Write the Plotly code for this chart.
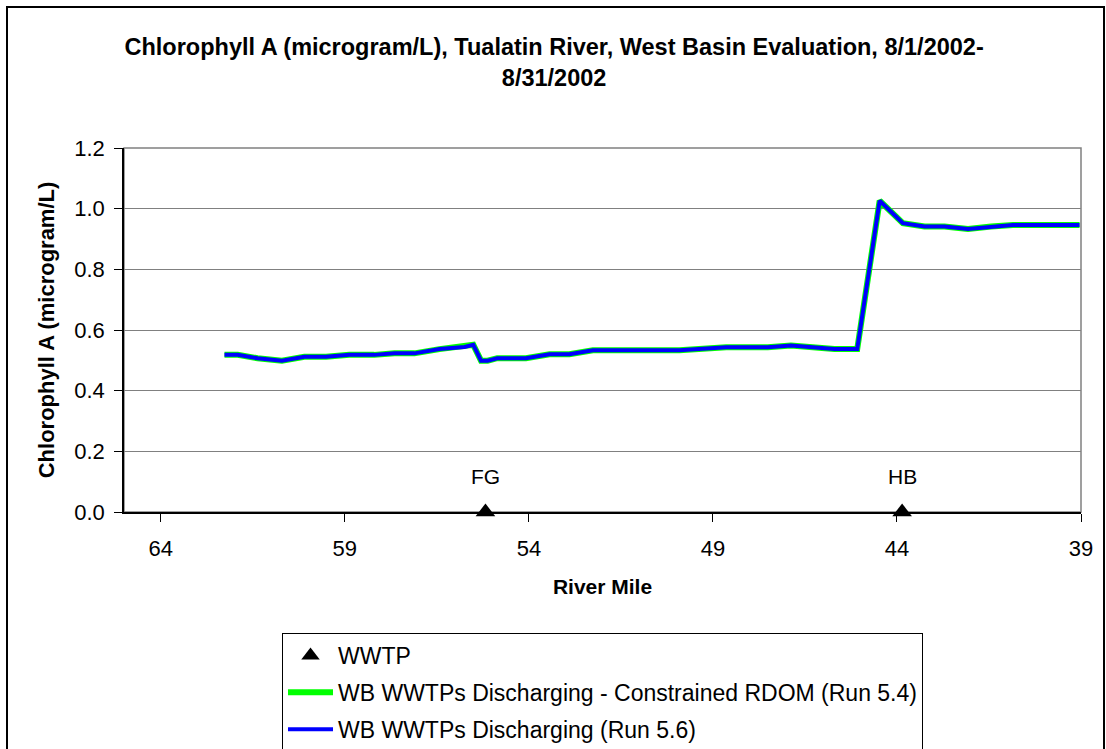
import plotly.graph_objects as go

# ---- data ----
river_mile = [62.27, 61.91, 61.37, 60.71, 60.10, 59.51, 58.88, 58.20, 57.65, 57.11,
              56.43, 55.75, 55.51, 55.30, 55.12, 54.86, 54.08, 53.44, 52.90, 52.26,
              49.91, 48.64, 47.51, 46.88, 45.70, 45.08, 44.47, 43.84, 43.25, 42.71,
              42.07, 41.44, 40.85, 40.26, 39.04]
chla_run54 = [0.518, 0.518, 0.507, 0.499, 0.512, 0.512, 0.518, 0.518, 0.523, 0.523,
              0.537, 0.544, 0.551, 0.499, 0.499, 0.507, 0.507, 0.520, 0.520, 0.533,
              0.533, 0.543, 0.543, 0.549, 0.537, 0.537, 1.026, 0.952, 0.941, 0.941,
              0.933, 0.941, 0.946, 0.946, 0.946]
chla_run56 = [0.518, 0.518, 0.507, 0.499, 0.512, 0.512, 0.518, 0.518, 0.523, 0.523,
              0.537, 0.544, 0.551, 0.499, 0.499, 0.507, 0.507, 0.520, 0.520, 0.533,
              0.533, 0.543, 0.543, 0.549, 0.537, 0.537, 1.026, 0.952, 0.941, 0.941,
              0.933, 0.941, 0.946, 0.946, 0.946]
wwtp_mile = [55.18, 43.86]
wwtp_value = [0.0, 0.0]
wwtp_names = ["FG", "HB"]
x_ticks = [64, 59, 54, 49, 44, 39]
y_ticks = [0.0, 0.2, 0.4, 0.6, 0.8, 1.0, 1.2]

FONT = "Arial, Liberation Sans, sans-serif"

W, H = 1106, 749
L, R, T, B = 124, 25, 148, 237
pw, ph = W - L - R, H - T - B


def px_x(x):
    return (x - L) / pw


def px_y(y):
    return (H - B - y) / ph


fig = go.Figure()
fig.add_trace(go.Scatter(
    x=wwtp_mile, y=wwtp_value, mode="markers", name="WWTP",
    marker=dict(symbol="triangle-up", size=17, color="black"),
    cliponaxis=False, legendgroup="a"))
fig.add_trace(go.Scatter(
    x=river_mile, y=chla_run54, mode="lines",
    name="WB WWTPs Discharging - Constrained RDOM (Run 5.4)",
    line=dict(color="#00FF00", width=6), legendgroup="b"))
fig.add_trace(go.Scatter(
    x=river_mile, y=chla_run56, mode="lines",
    name="WB WWTPs Discharging (Run 5.6)",
    line=dict(color="#0000FF", width=4), legendgroup="c"))

for m, v, n in zip(wwtp_mile, wwtp_value, wwtp_names):
    fig.add_annotation(x=m, y=v, text=n, showarrow=False, yshift=36,
                       font=dict(family=FONT, size=21, color="black"))

shapes = [
    # plot area frame (grey)
    dict(type="rect", xref="paper", yref="paper", x0=0, x1=1, y0=0, y1=1,
         line=dict(color="#808080", width=1.5), layer="below"),
    # outer chart border
    dict(type="rect", xref="paper", yref="paper",
         x0=px_x(7), x1=px_x(1104), y0=px_y(800), y1=px_y(7),
         line=dict(color="black", width=2), layer="below"),
]

fig.update_layout(
    width=W, height=H,
    margin=dict(l=L, r=R, t=T, b=B, autoexpand=False),
    paper_bgcolor="white", plot_bgcolor="white",
    font=dict(family=FONT, size=20, color="black"),
    title=dict(
        text="<b>Chlorophyll A (microgram/L), Tualatin River, West Basin Evaluation, 8/1/2002-<br>8/31/2002</b>",
        x=0.501, xref="container", xanchor="center",
        y=1 - 55 / H, yref="container", yanchor="top",
        font=dict(family=FONT, size=23.5, color="black")),
    xaxis=dict(
        range=[65, 39], tickvals=x_ticks, ticktext=[str(t) for t in x_ticks],
        ticks="outside", ticklen=8, tickcolor="black", tickwidth=1,
        showline=True, linecolor="black", linewidth=1.5,
        showgrid=False, zeroline=False, ticklabelstandoff=8,
        tickfont=dict(family=FONT, size=22, color="black"),
        title=dict(text="<b>River Mile</b>", standoff=19,
                   font=dict(family=FONT, size=21, color="black"))),
    yaxis=dict(
        range=[0, 1.2], tickvals=y_ticks, tickformat=".1f",
        ticks="outside", ticklen=8, tickcolor="black", tickwidth=1,
        showline=True, linecolor="black", linewidth=1.5,
        showgrid=True, gridcolor="#808080", gridwidth=1,
        zeroline=False, ticklabelstandoff=5,
        tickfont=dict(family=FONT, size=22, color="black"),
        title=dict(text="<b>Chlorophyll A (microgram/L)</b>", standoff=14,
                   font=dict(family=FONT, size=22, color="black"))),
    legend=dict(
        x=px_x(282), y=px_y(633), xanchor="left", yanchor="top",
        bordercolor="black", borderwidth=1, bgcolor="white",
        traceorder="grouped", tracegroupgap=4, itemwidth=45,
        font=dict(family=FONT, size=23, color="black")),
    shapes=shapes,
    showlegend=True,
)

fig.write_html("out.html", config={"displayModeBar": False},
               post_script="document.body.style.margin='0';")
